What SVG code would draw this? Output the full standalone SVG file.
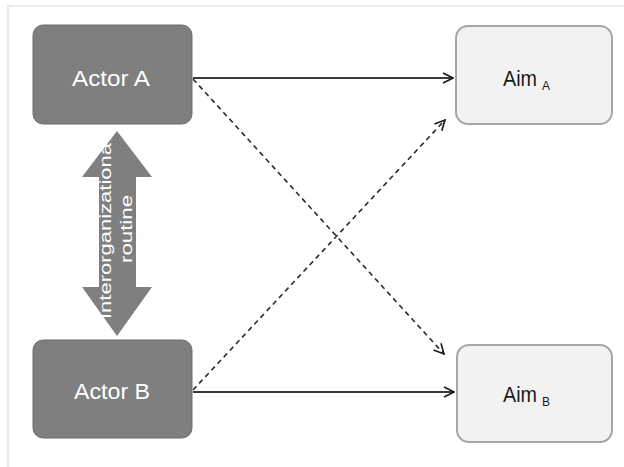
<svg xmlns="http://www.w3.org/2000/svg" width="624" height="467" viewBox="0 0 624 467">
<style>
.actor{fill:#7f7f7f;stroke:#6f6f6f;stroke-width:1}
.aim{fill:#f2f2f2;stroke:#a6a6a6;stroke-width:2}
.lbl{font-family:"Liberation Sans",Arial,sans-serif;font-size:22px;text-anchor:middle}
.albl{font-family:"Liberation Sans",Arial,sans-serif;font-size:22px;fill:#1a1a1a}
.w{fill:#ffffff}
.sub{font-size:12px}
.solid{stroke:#3a3a3a;stroke-width:2;fill:none}
.dash{stroke:#2a2a2a;stroke-width:1.6;fill:none;stroke-dasharray:5 4}
.rot{font-family:"Liberation Sans",Arial,sans-serif;font-size:16px;fill:#ffffff;text-anchor:middle}
</style>
<defs>
<marker id="ah" viewBox="0 0 12 12" refX="11" refY="6" markerWidth="12" markerHeight="12" markerUnits="userSpaceOnUse" orient="auto">
<path d="M1,1 L11,6 L1,11" fill="none" stroke="#1a1a1a" stroke-width="1.6"/>
</marker>
</defs>
<rect x="0" y="0" width="624" height="467" fill="#ffffff"/>
<rect x="8" y="6" width="640" height="480" fill="none" stroke="#e3e3e3" stroke-width="1.5"/>
<g id="connectors">
<line class="solid" x1="193" y1="78" x2="453" y2="78" marker-end="url(#ah)"/>
<line class="solid" x1="193" y1="392" x2="454" y2="392" marker-end="url(#ah)"/>
<line class="dash" x1="193" y1="79" x2="444" y2="354" marker-end="url(#ah)"/>
<line class="dash" x1="193" y1="390" x2="445" y2="120" marker-end="url(#ah)"/>
</g>
<g id="actorA">
<rect class="actor" x="33" y="25" width="159" height="99" rx="10"/>
<text class="lbl w" x="111" y="86" textLength="78" lengthAdjust="spacingAndGlyphs">Actor A</text>
</g>
<g id="actorB">
<rect class="actor" x="33" y="340" width="159" height="98" rx="10"/>
<text class="lbl w" x="112" y="399" textLength="76" lengthAdjust="spacingAndGlyphs">Actor B</text>
</g>
<g id="aimA">
<rect class="aim" x="456" y="26" width="156" height="98" rx="12"/>
<text class="albl" x="503" y="86"><tspan textLength="34" lengthAdjust="spacingAndGlyphs">Aim</tspan><tspan class="sub" dx="5" dy="4">A</tspan></text>
</g>
<g id="aimB">
<rect class="aim" x="457" y="345" width="155" height="97" rx="12"/>
<text class="albl" x="503" y="402"><tspan textLength="34" lengthAdjust="spacingAndGlyphs">Aim</tspan><tspan class="sub" dx="5" dy="4">B</tspan></text>
</g>
<g id="routine">
<polygon points="117,131 152,177 136,177 136,287 152,287 117,336 82,287 99,287 99,177 82,177" fill="#7f7f7f"/>
<text class="rot" transform="translate(111,231) rotate(-90)" textLength="176" lengthAdjust="spacingAndGlyphs">Interorganizationa</text>
<text class="rot" transform="translate(132,229) rotate(-90)" textLength="68" lengthAdjust="spacingAndGlyphs">routine</text>
</g>
</svg>
